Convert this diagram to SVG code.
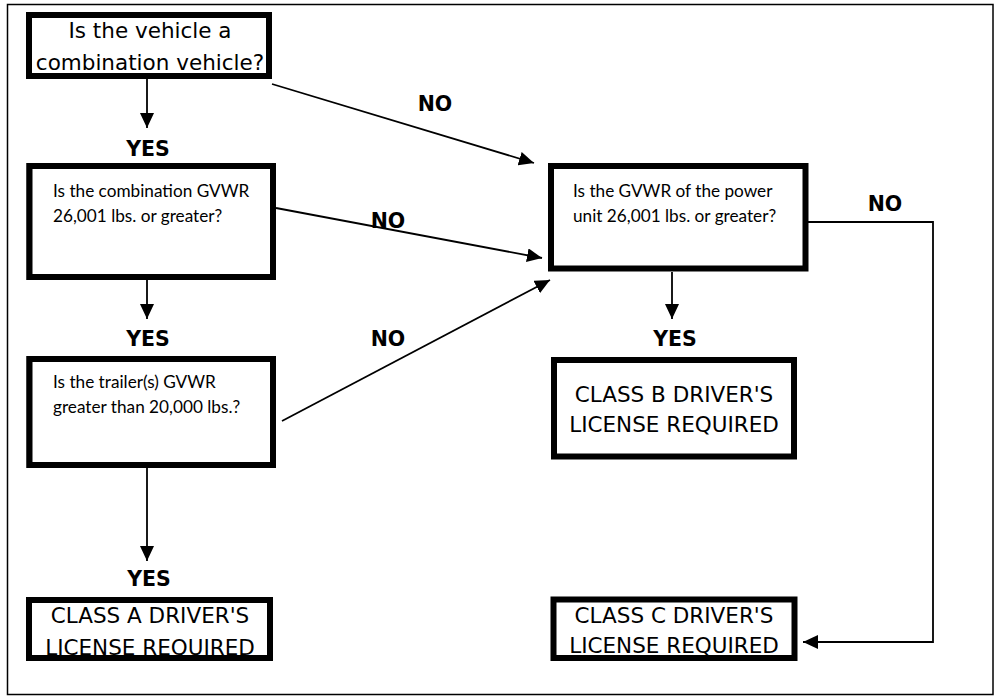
<svg xmlns="http://www.w3.org/2000/svg" width="995" height="698" viewBox="0 0 995 698">
<defs>
<marker id="ah" markerUnits="userSpaceOnUse" markerWidth="16" markerHeight="14" refX="15" refY="7" orient="auto">
<path d="M0,0 L15,7 L0,14 Z" fill="#000"/>
</marker>
<style>
.box{fill:#fff;stroke:#000;stroke-width:6}
.big{font-family:"DejaVu Sans",Verdana,sans-serif;font-size:21.5px;fill:#000;text-anchor:middle}
.q{font-family:Lato,"Liberation Sans",sans-serif;font-size:17.2px;fill:#000}
.lbl{font-family:"DejaVu Sans",Verdana,sans-serif;font-size:20.5px;font-weight:bold;fill:#000;text-anchor:middle}
.c{fill:none;stroke:#000;stroke-width:1.8}
</style>
</defs>
<rect x="0" y="0" width="995" height="698" fill="#fff"/>
<rect x="7.5" y="4.5" width="985.5" height="690" fill="none" stroke="#000" stroke-width="1.5"/>

<g id="connectors">
<line class="c" x1="147" y1="79" x2="147" y2="128" marker-end="url(#ah)"/>
<line class="c" x1="147" y1="280" x2="147" y2="319" marker-end="url(#ah)"/>
<line class="c" x1="147" y1="468" x2="147" y2="561" marker-end="url(#ah)"/>
<line class="c" x1="672" y1="272" x2="672" y2="319" marker-end="url(#ah)"/>
<line class="c" x1="272" y1="84" x2="534" y2="163" marker-end="url(#ah)"/>
<line class="c" x1="276" y1="208" x2="542" y2="258" marker-end="url(#ah)"/>
<line class="c" x1="282" y1="421" x2="550" y2="280" marker-end="url(#ah)"/>
<polyline class="c" points="808,222 933,222 933,642 803,642" marker-end="url(#ah)"/>
<text class="lbl" x="148" y="156">YES</text>
<text class="lbl" x="148" y="346">YES</text>
<text class="lbl" x="149" y="586">YES</text>
<text class="lbl" x="675" y="346">YES</text>
<text class="lbl" x="435" y="111">NO</text>
<text class="lbl" x="388" y="228">NO</text>
<text class="lbl" x="388" y="346">NO</text>
<text class="lbl" x="885" y="211">NO</text>
</g>

<g id="q1">
<rect class="box" x="29" y="15" width="240" height="61"/>
<text class="big" x="150" y="38">Is the vehicle a</text>
<text class="big" x="150" y="70">combination vehicle?</text>
</g>

<g id="q2">
<rect class="box" x="29.5" y="166" width="243.5" height="111"/>
<line x1="28" y1="163" x2="28" y2="280" stroke="#000" stroke-width="3"/>
<text class="q" x="53" y="197">Is the combination GVWR</text>
<text class="q" x="53" y="222">26,001 lbs. or greater?</text>
</g>

<g id="q3">
<rect class="box" x="29.5" y="359" width="243.5" height="106"/>
<line x1="28" y1="356" x2="28" y2="468" stroke="#000" stroke-width="3"/>
<text class="q" x="53" y="388">Is the trailer(s) GVWR</text>
<text class="q" x="53" y="413">greater than 20,000 lbs.?</text>
</g>

<g id="q4">
<rect class="box" x="551" y="166" width="254.5" height="102.5"/>
<text class="q" x="573" y="197">Is the GVWR of the power</text>
<text class="q" x="573" y="222">unit 26,001 lbs. or greater?</text>
</g>

<g id="classA">
<rect class="box" x="29" y="600" width="241" height="58"/>
<text class="big" x="150" y="623">CLASS A DRIVER'S</text>
<text class="big" x="150" y="655">LICENSE REQUIRED</text>
</g>

<g id="classB">
<rect class="box" x="554" y="360" width="240" height="96.5"/>
<text class="big" x="674" y="402">CLASS B DRIVER'S</text>
<text class="big" x="674" y="432">LICENSE REQUIRED</text>
</g>

<g id="classC">
<rect class="box" x="553.5" y="599.5" width="241" height="58.5"/>
<text class="big" x="674" y="623">CLASS C DRIVER'S</text>
<text class="big" x="674" y="653">LICENSE REQUIRED</text>
</g>
</svg>
